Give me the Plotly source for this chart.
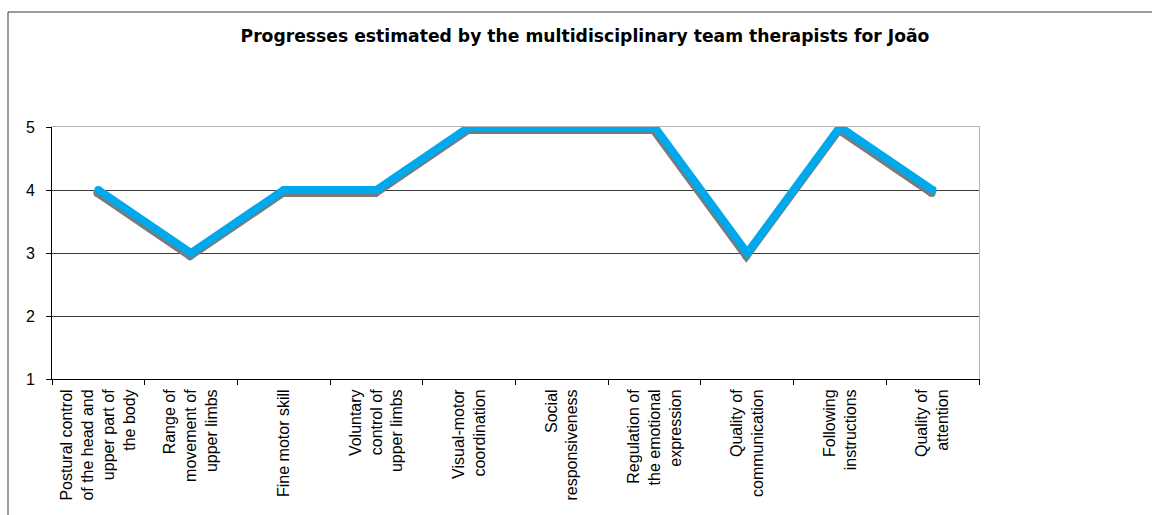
import plotly.graph_objects as go

categories = [
    "Postural control<br>of the head and<br>upper part of<br>the body",
    "Range of<br>movement of<br>upper limbs",
    "Fine motor skill",
    "Voluntary<br>control of<br>upper limbs",
    "Visual-motor<br>coordination",
    "Social<br>responsiveness",
    "Regulation of<br>the emotional<br>expression",
    "Quality of<br>communication",
    "Following<br>instructions",
    "Quality of<br>attention",
]
values = [4, 3, 4, 4, 5, 5, 5, 3, 5, 4]
y_ticks = [1, 2, 3, 4, 5]
title_text = "Progresses estimated by the multidisciplinary team therapists for João"

W, H = 1152, 515
L, R, T, B = 52, 173, 127, 136
plot_w = W - L - R
plot_h = H - T - B
n = len(categories)
ymin, ymax = 1, 5

# shadow offset in pixels
sdx, sdy = -1, 3
dx_units = -sdx * n / plot_w
dy_units = sdy * (ymax - ymin) / plot_h

BLUE = "#00A9EC"
SHADOW = "#7a7a7a"
GRID = "#3c3c3c"
BORDER = "#b4b4b4"

fig = go.Figure()

# shadow trace on base (shifted) axes
fig.add_trace(go.Scatter(
    x=categories, y=values, xaxis="x", yaxis="y",
    mode="lines+markers",
    line=dict(color=SHADOW, width=8),
    marker=dict(color=SHADOW, size=8, line=dict(width=0)),
    hoverinfo="skip", showlegend=False,
))
# main trace on overlaid axes
fig.add_trace(go.Scatter(
    x=categories, y=values, xaxis="x2", yaxis="y2",
    mode="lines+markers",
    line=dict(color=BLUE, width=8),
    marker=dict(color=BLUE, size=8, line=dict(width=0)),
    hoverinfo="skip", showlegend=False,
))

label_font = dict(family="Liberation Sans, Arial, sans-serif", size=16, color="#000000")

fig.update_layout(
    width=W, height=H,
    margin=dict(l=L, r=R, t=T, b=B, pad=0),
    paper_bgcolor="white",
    plot_bgcolor="rgba(0,0,0,0)",
    showlegend=False,
    hovermode=False,
    title=dict(
        text="<b>" + title_text + "</b>",
        font=dict(family="DejaVu Sans, Verdana, sans-serif", size=17.2, color="#000000"),
        x=585 / W, xanchor="center", xref="container",
        y=1 - 36 / H, yanchor="middle", yref="container",
    ),
    xaxis=dict(
        type="category", range=[-0.5 + dx_units, n - 0.5 + dx_units],
        side="top", showline=True, linecolor=BORDER, linewidth=1,
        layer="below traces", showgrid=False, zeroline=False,
        showticklabels=False, ticks="", automargin=False, fixedrange=True,
    ),
    yaxis=dict(
        range=[ymin + dy_units, ymax + dy_units],
        side="right", showline=True, linecolor=BORDER, linewidth=1,
        layer="below traces", showgrid=False, zeroline=False,
        showticklabels=False, ticks="", automargin=False, fixedrange=True,
    ),
    xaxis2=dict(
        type="category", overlaying="x", anchor="y2", side="bottom",
        range=[-0.5, n - 0.5],
        showline=True, linecolor="#000000", linewidth=1,
        ticks="outside", ticklen=5, tickcolor="#000000", tickwidth=1,
        tickson="boundaries", tickangle=-90,
        tickfont=label_font, ticklabelstandoff=3,
        showgrid=False, zeroline=False, automargin=False, fixedrange=True,
    ),
    yaxis2=dict(
        overlaying="y", anchor="x2", side="left",
        range=[ymin, ymax], tickmode="array", tickvals=y_ticks,
        showline=True, linecolor="#000000", linewidth=1,
        ticks="outside", ticklen=5, tickcolor="#000000", tickwidth=1,
        tickfont=label_font, ticklabelstandoff=8,
        showgrid=False, zeroline=False,
        minor=dict(tickmode="array", tickvals=y_ticks[1:-1], showgrid=True,
                   gridcolor=GRID, gridwidth=1, ticks=""),
        automargin=False, fixedrange=True,
    ),
)

# outer chart frame (extends beyond the visible page on right/bottom)
fig.add_shape(
    type="rect", xref="paper", yref="paper",
    x0=(8 - L) / plot_w, x1=(W + 20 - L) / plot_w,
    y0=-(B + 20) / plot_h, y1=(plot_h + T - 12) / plot_h,
    line=dict(color="#3a3a3a", width=1), fillcolor="rgba(0,0,0,0)", layer="below",
)

fig.write_html("out.html")
